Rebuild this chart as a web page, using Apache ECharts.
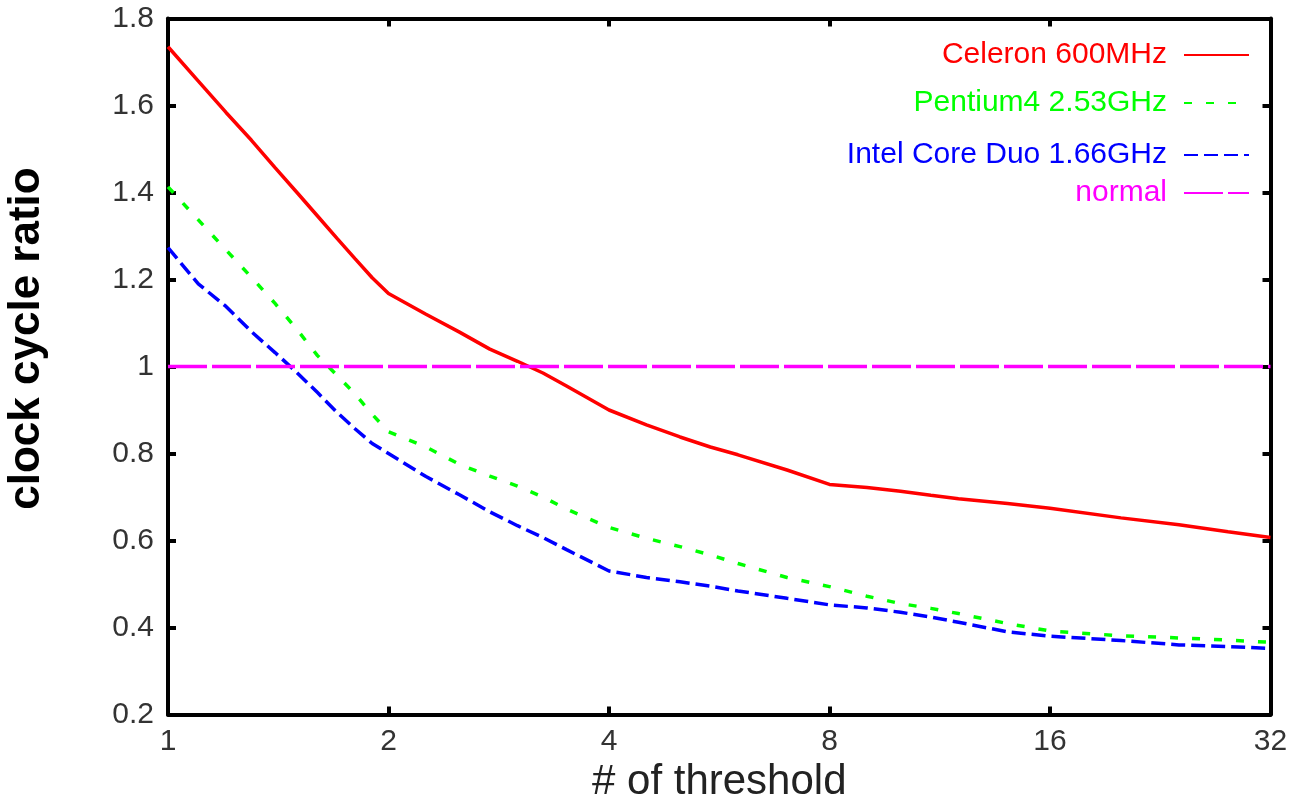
<!DOCTYPE html>
<html>
<head>
<meta charset="utf-8">
<title>clock cycle ratio</title>
<script src="https://cdn.jsdelivr.net/npm/echarts@6/dist/echarts.min.js"></script>
<style>
  html, body { margin: 0; padding: 0; background: #fff; }
  #myChart { width: 1295px; height: 800px; }
</style>
</head>
<body>
<div id="myChart"></div>
<script>
  // x values (# of threshold), log2 axis
  var thresholds = [1, 1.1, 1.2, 1.3, 1.4, 1.5, 1.6, 1.7, 1.8, 1.9, 2, 2.25, 2.5, 2.75, 3, 3.25, 3.5,
    4, 4.5, 5, 5.5, 6, 7, 8, 9, 10, 11, 12, 14, 16, 20, 24, 28, 32];

  // clock cycle ratio
  var celeron = [1.735, 1.656, 1.584, 1.52, 1.457, 1.40, 1.346, 1.295, 1.248, 1.204, 1.168, 1.12, 1.079,
    1.04, 1.012, 0.985, 0.955, 0.90, 0.866, 0.838, 0.815, 0.797, 0.762, 0.729, 0.722, 0.713, 0.704,
    0.696, 0.685, 0.674, 0.652, 0.636, 0.62, 0.607];
  var pentium4 = [1.413, 1.337, 1.268, 1.205, 1.145, 1.085, 1.025, 0.98, 0.937, 0.89, 0.85, 0.815, 0.775,
    0.748, 0.725, 0.70, 0.672, 0.63, 0.605, 0.586, 0.567, 0.547, 0.515, 0.494, 0.472, 0.455, 0.444,
    0.432, 0.409, 0.392, 0.381, 0.376, 0.371, 0.366];
  var coreDuo = [1.273, 1.19, 1.138, 1.08, 1.032, 0.986, 0.94, 0.895, 0.857, 0.823, 0.80, 0.747, 0.705,
    0.666, 0.634, 0.607, 0.579, 0.53, 0.515, 0.505, 0.495, 0.484, 0.467, 0.452, 0.445, 0.435, 0.424,
    0.412, 0.39, 0.38, 0.37, 0.36, 0.356, 0.352];
  var normalX = [1, 32];
  var normalY = [1, 1];

  var seriesNames = ['Celeron 600MHz', 'Pentium4 2.53GHz', 'Intel Core Duo 1.66GHz', 'normal'];
  var seriesColors = ['#ff0000', '#00ff00', '#0000ff', '#ff00ff'];

  var xMin = 1, xMax = 32;
  var yMin = 0.2, yMax = 1.8, yStep = 0.2;

  var font = 'Liberation Sans, Arial, Helvetica, sans-serif';

  function pairs(xs, ys) {
    return xs.map(function (x, i) { return [x, ys[i]]; });
  }

  var chart = echarts.init(document.getElementById('myChart'), null, { renderer: 'canvas' });

  var axisLine = { show: true, onZero: false, lineStyle: { color: '#000', width: 4 } };
  var axisTick = { show: true, inside: true, length: 8, lineStyle: { color: '#000', width: 4 } };
  var tickLabel = { fontSize: 30, color: '#333', fontFamily: font };

  // one legend per row so the rows can sit where they are in the original
  var legendTops = [40, 88, 140, 178];
  var legends = seriesNames.map(function (name, i) {
    return {
      data: [{ name: name, textStyle: { color: seriesColors[i] } }],
      right: 45,
      top: legendTops[i],
      padding: 0,
      align: 'right',
      itemWidth: 65,
      itemHeight: 30,
      itemStyle: { opacity: 0 },
      textStyle: { fontSize: 30, fontFamily: font, lineHeight: 30, padding: [0, 12, 0, 0] }
    };
  });

  chart.setOption({
    animation: false,
    backgroundColor: '#fff',
    grid: {
      left: 168,
      right: 24.5,
      top: 18.5,
      bottom: 85.5,
      outerBoundsMode: 'none'
    },
    legend: legends,
    xAxis: [
      {
        type: 'log',
        logBase: 2,
        min: xMin,
        max: xMax,
        name: '# of threshold',
        nameLocation: 'middle',
        nameGap: 47,
        nameTextStyle: { fontSize: 42, color: '#222', fontFamily: font },
        axisLine: axisLine,
        axisTick: axisTick,
        axisLabel: Object.assign({ margin: 12 }, tickLabel),
        splitLine: { show: false },
        minorTick: { show: false }
      },
      {
        // mirror ticks on top
        type: 'log',
        logBase: 2,
        min: xMin,
        max: xMax,
        position: 'top',
        axisLine: axisLine,
        axisTick: axisTick,
        axisLabel: { show: false },
        splitLine: { show: false }
      }
    ],
    yAxis: [
      {
        type: 'value',
        min: yMin,
        max: yMax,
        interval: yStep,
        name: 'clock cycle ratio',
        nameLocation: 'middle',
        nameRotate: 90,
        nameGap: 119,
        nameTextStyle: { fontSize: 44, fontWeight: 'bold', color: '#000', fontFamily: font, padding: [0, 0, 0, 56] },
        axisLine: axisLine,
        axisTick: axisTick,
        axisLabel: Object.assign({ margin: 14 }, tickLabel),
        splitLine: { show: false }
      },
      {
        // mirror ticks on the right
        type: 'value',
        min: yMin,
        max: yMax,
        interval: yStep,
        position: 'right',
        axisLine: axisLine,
        axisTick: axisTick,
        axisLabel: { show: false },
        splitLine: { show: false }
      }
    ],
    series: [
      {
        name: seriesNames[0],
        type: 'line',
        symbol: 'none',
        color: seriesColors[0],
        lineStyle: { width: 3.5, type: 'solid' },
        data: pairs(thresholds, celeron)
      },
      {
        name: seriesNames[1],
        type: 'line',
        symbol: 'none',
        color: seriesColors[1],
        lineStyle: { width: 3.5, type: [8, 14] },
        data: pairs(thresholds, pentium4)
      },
      {
        name: seriesNames[2],
        type: 'line',
        symbol: 'none',
        color: seriesColors[2],
        lineStyle: { width: 3.5, type: [14, 6] },
        data: pairs(thresholds, coreDuo)
      },
      {
        name: seriesNames[3],
        type: 'line',
        symbol: 'none',
        color: seriesColors[3],
        lineStyle: { width: 3.5, type: [39, 5] },
        data: pairs(normalX, normalY)
      }
    ]
  });
</script>
</body>
</html>
